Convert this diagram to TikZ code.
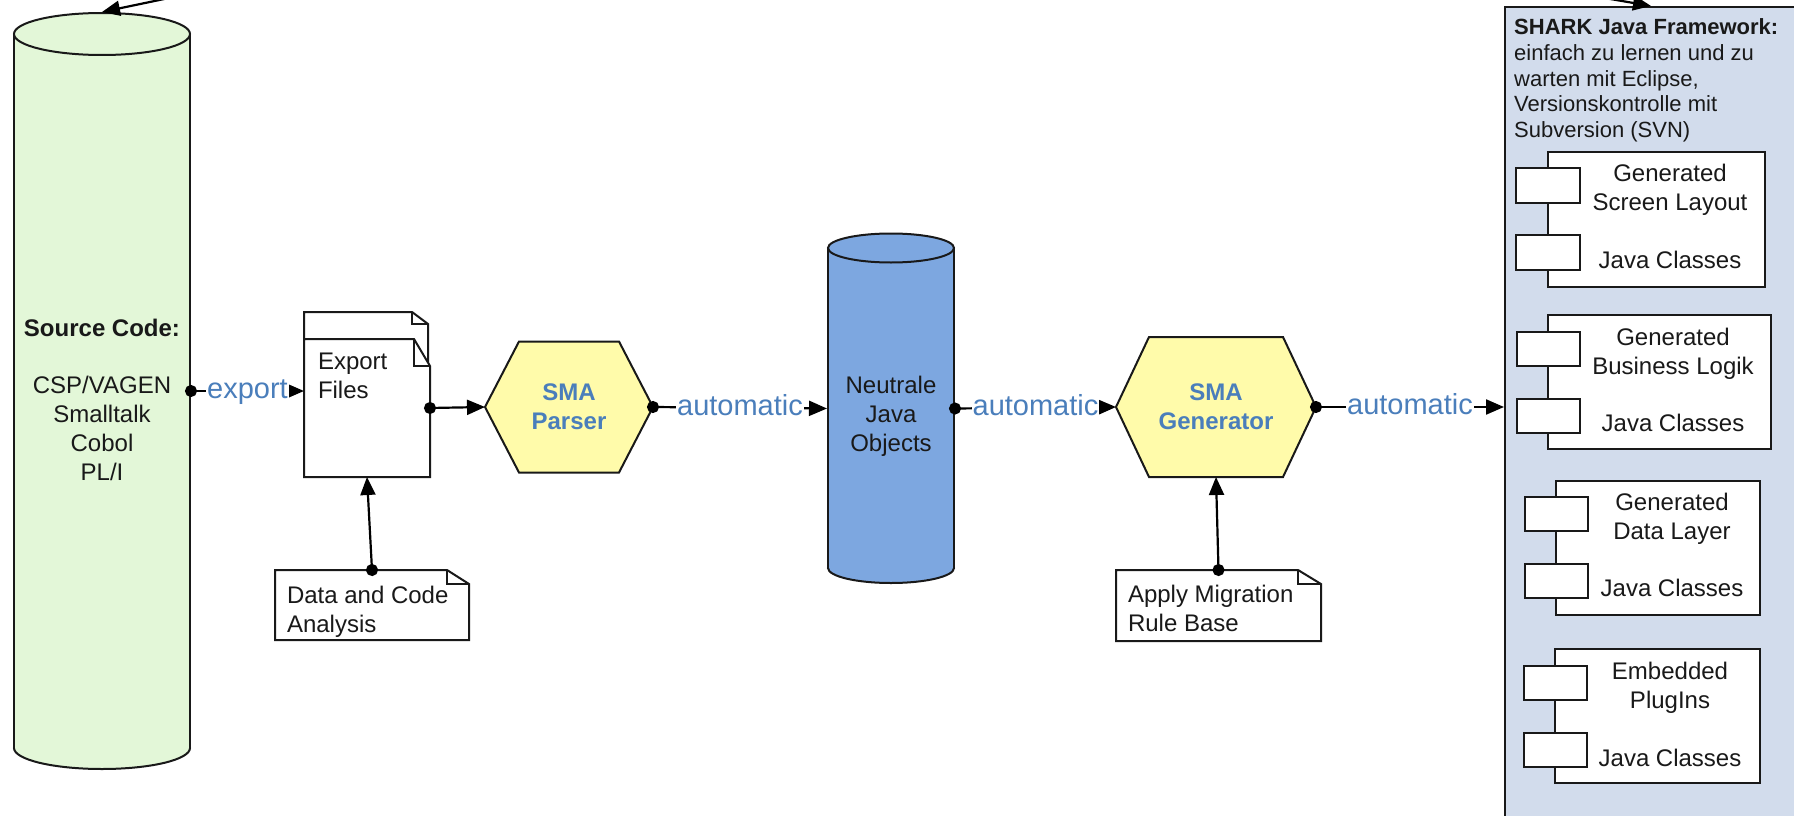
\documentclass[tikz,border=0pt]{standalone}
\usepackage{fontspec}
\setmainfont{Liberation Sans}
\usetikzlibrary{arrows.meta,backgrounds}
\definecolor{srcgreen}{RGB}{227,247,216}
\definecolor{neublue}{RGB}{125,167,224}
\definecolor{hexyellow}{RGB}{255,251,170}
\definecolor{fwblue}{RGB}{210,220,236}
\definecolor{lblblue}{RGB}{74,126,187}
\definecolor{ink}{RGB}{25,25,25}
\newcommand{\fsz}[2]{\fontsize{#1}{#2}\selectfont}
\begin{document}
\begin{tikzpicture}[x=1pt,y=-1pt,line width=2pt,
  txt/.style={text=ink,inner sep=0pt,font=\fsz{24}{29}},
  lbl/.style={fill=white,text=lblblue,font=\fsz{29}{34},inner xsep=1pt,inner ysep=1pt,anchor=base,yshift=-7.5pt},
  conn/.style={draw=black,line width=2.2pt,shorten <=-6pt,{Circle[length=12pt]}-{Triangle[length=18pt,width=15pt]}},
  plainarrow/.style={draw=black,line width=2.2pt,-{Triangle[length=18pt,width=15pt]}},
  box/.style={inner sep=0pt},
  ln/.style={draw=ink,line width=2pt},
  comp/.style={draw=ink,line width=2pt,fill=white,inner sep=0pt,anchor=north west},
  outline/.style={draw=ink,line width=2pt,fill=white}]
\useasboundingbox (0,0) rectangle (1794,816);

% ---------- source code cylinder
\draw[ln,fill=srcgreen] (102,748) ellipse [x radius=88,y radius=21];
\fill[srcgreen] (14,34) rectangle (190,748);
\draw[ln] (14,34) -- (14,748);
\draw[ln] (190,34) -- (190,748);
\draw[ln,fill=srcgreen] (102,34) ellipse [x radius=88,y radius=21];
\node[box,minimum width=176pt,minimum height=756pt] (src) at (102,391) {};
\node[txt,align=center] (srctext) at (102,400) {\textbf{Source Code:}\\[28.7pt]CSP/VAGEN\\Smalltalk\\Cobol\\PL/I};

% ---------- neutral java objects cylinder
\draw[ln,fill=neublue] (891,568) ellipse [x radius=63,y radius=15];
\fill[neublue] (828,248) rectangle (954,568);
\draw[ln] (828,248) -- (828,568);
\draw[ln] (954,248) -- (954,568);
\draw[ln,fill=neublue] (891,248) ellipse [x radius=63,y radius=14.5];
\node[box,minimum width=126pt,minimum height=349pt] (neu) at (891,408.5) {};
\node[txt,align=center] (neutext) at (891,416.4) {Neutrale\\Java\\Objects};

% ---------- export files
\node[box,minimum width=122pt,minimum height=136pt] (efb) at (366,381) {};
\node[box,minimum width=124pt,minimum height=136pt] (ef) at (367,408) {};
\node[txt,align=left,anchor=west] (eftext) at (317,375.9) {Export\\Files};

% ---------- hexagons
\node[txt,font=\bfseries\fsz{24}{29},text=lblblue,align=center,minimum width=166pt,minimum height=129pt] (parser) at (569,407) {SMA\\Parser};
\node[txt,font=\bfseries\fsz{24}{29},text=lblblue,align=center,minimum width=198pt,minimum height=138pt] (gen) at (1216,407) {SMA\\Generator};

% ---------- notes
\node[box,minimum width=192pt,minimum height=68pt] (dca) at (372,605) {};
\node[txt,align=left,anchor=west] (dcatext) at (286,611.4) {Data and Code\\Analysis};
\node[box,minimum width=203pt,minimum height=69pt] (amrb) at (1218.5,605.5) {};
\node[txt,align=left,anchor=west] (amrbtext) at (1127,608.9) {Apply Migration\\Rule Base};

\begin{pgfonlayer}{background}
  \draw[outline] (efb.south west) -- (efb.north west) -- ([xshift=-16pt]efb.north east) -- ([yshift=-12pt]efb.north east) -- (efb.south east) -- cycle;
  \draw[ln] ([xshift=-16pt]efb.north east) |- ([yshift=-12pt]efb.north east);
  \draw[outline] (ef.south west) -- (ef.north west) -- ([xshift=-16pt]ef.north east) -- ([yshift=-27pt]ef.north east) -- (ef.south east) -- cycle;
  \draw[ln] ([xshift=-16pt]ef.north east) |- ([yshift=-27pt]ef.north east);
  \draw[outline] (dca.south west) -- (dca.north west) -- ([xshift=-22pt]dca.north east) -- ([yshift=-14pt]dca.north east) -- (dca.south east) -- cycle;
  \draw[ln] ([xshift=-22pt]dca.north east) |- ([yshift=-14pt]dca.north east);
  \draw[outline] (amrb.south west) -- (amrb.north west) -- ([xshift=-23pt]amrb.north east) -- ([yshift=-14pt]amrb.north east) -- (amrb.south east) -- cycle;
  \draw[ln] ([xshift=-23pt]amrb.north east) |- ([yshift=-14pt]amrb.north east);
  \draw[ln,fill=hexyellow] (parser.west) -- ([xshift=34pt]parser.north west) -- ([xshift=-34pt]parser.north east) -- (parser.east) -- ([xshift=-34pt]parser.south east) -- ([xshift=34pt]parser.south west) -- cycle;
  \draw[ln,fill=hexyellow] (gen.west) -- ([xshift=33pt]gen.north west) -- ([xshift=-33pt]gen.north east) -- (gen.east) -- ([xshift=-33pt]gen.south east) -- ([xshift=33pt]gen.south west) -- cycle;
\end{pgfonlayer}

% ---------- framework panel
\node[draw=ink,line width=2pt,fill=fwblue,inner sep=0pt,minimum width=306pt,minimum height=810pt,anchor=north west] (fw) at (1504,6) {};
\node[txt,font=\fsz{22}{25.7},align=left,anchor=west] (fwtext) at (1514,80.6) {\textbf{SHARK Java Framework:}\\einfach zu lernen und zu\\warten mit Eclipse,\\Versionskontrolle mit\\Subversion (SVN)};

% components
\node[comp,minimum width=217pt,minimum height=135pt] (c1) at (1547,151) {};
\node[comp,minimum width=64pt,minimum height=35pt] (c1a) at (1515,167) {};
\node[comp,minimum width=64pt,minimum height=35pt] (c1b) at (1515,234) {};
\node[txt,align=center] (c1t) at (1670,216.4) {Generated\\Screen Layout\\[29pt]Java Classes};

\node[comp,minimum width=223pt,minimum height=134pt] (c2) at (1547,314) {};
\node[comp,minimum width=63pt,minimum height=34pt] (c2a) at (1516,331) {};
\node[comp,minimum width=63pt,minimum height=34pt] (c2b) at (1516,398) {};
\node[txt,align=center] (c2t) at (1673,380.4) {Generated\\Business Logik\\[28pt]Java Classes};

\node[comp,minimum width=204pt,minimum height=134pt] (c3) at (1555,480) {};
\node[comp,minimum width=63pt,minimum height=34pt] (c3a) at (1524,496) {};
\node[comp,minimum width=63pt,minimum height=34pt] (c3b) at (1524,563) {};
\node[txt,align=center] (c3t) at (1672,545.4) {Generated\\Data Layer\\[28pt]Java Classes};

\node[comp,minimum width=205pt,minimum height=134pt] (c4) at (1554,648) {};
\node[comp,minimum width=63pt,minimum height=34pt] (c4a) at (1523,665) {};
\node[comp,minimum width=63pt,minimum height=34pt] (c4b) at (1523,732) {};
\node[txt,align=center] (c4t) at (1670,714.4) {Embedded\\PlugIns\\[29pt]Java Classes};

% ---------- connectors
\coordinate (loopL) at (255,-20);
\coordinate (loopR) at (1500,-20);
\draw[plainarrow] (loopL) -- (src.north);
\draw[plainarrow] (loopR) -- ([xshift=-7pt]fw.north);
\draw[conn] (src.east) -- (src.east -| ef.west) node[lbl,pos=0.5] {export};
\draw[conn] (ef.east) -- (parser.west);
\draw[conn] (parser.east) -- (neu.west) node[lbl,pos=0.5] {automatic};
\draw[conn] (neu.east) -- (gen.west) node[lbl,pos=0.5] {automatic};
\draw[conn] (gen.east) -- (gen.east -| fw.west) node[lbl,pos=0.5] {automatic};
\draw[conn] (dca.north) -- (ef.south);
\draw[conn] (amrb.north) -- (gen.south);
\end{tikzpicture}
\end{document}
